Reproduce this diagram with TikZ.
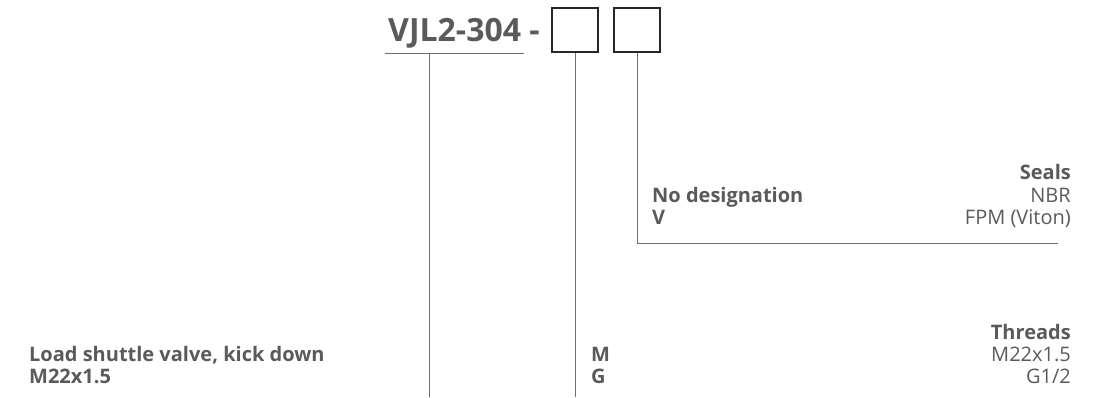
\documentclass[tikz,border=0pt]{standalone}
\usepackage{fontspec}
\setmainfont{Open Sans}
\definecolor{txt}{HTML}{5A5A5A}
\definecolor{ln}{HTML}{6E6E6E}
\begin{document}
\begin{tikzpicture}[x=1pt,y=1pt,
  lbl/.style={inner sep=0pt,text=txt,font=\fontsize{20}{23}\selectfont},
  lblb/.style={lbl,font=\fontsize{20}{23}\selectfont\bfseries},
  codebox/.style={draw=black!85,line width=1.2pt,minimum width=46pt,minimum height=44pt,inner sep=0pt},
  conn/.style={draw=ln,line width=1pt}]
\useasboundingbox (0,0) rectangle (1093,397);
% title
\node[inner sep=0pt,anchor=base west,text=txt,font=\fontsize{32}{38}\selectfont\bfseries] (title) at (388,355) {VJL2-304 -};
\coordinate (ul1) at (385,343);
\coordinate (ul2) at (524,343);
\draw[conn] (ul1) -- (ul2);
\node[codebox] (b1) at (575,367) {};
\node[codebox] (b2) at (637,367) {};
% connectors
\coordinate (t0) at (429,343);
\coordinate (e0) at (429,0);
\draw[conn] (t0) -- (e0);
\coordinate (e1) at (575,0);
\draw[conn] (b1.south) -- (e1);
\coordinate (e2) at (1058,154);
\draw[conn] (b2.south) |- (e2);
% seals
\node[lblb,anchor=base east] (seals) at (1071,217) {Seals};
\node[lblb,anchor=base west] (nod) at (652,195) {No designation};
\node[lbl,anchor=base east] (nbr) at (1071,195) {NBR};
\node[lblb,anchor=base west] (v) at (652,173) {V};
\node[lbl,anchor=base east] (fpm) at (1071,173) {FPM (Viton)};
% threads
\node[lblb,anchor=base east] (threads) at (1071,58) {Threads};
\node[lblb,anchor=base west] (lsv) at (29,36) {Load shuttle valve, kick down};
\node[lblb,anchor=base west] (m22) at (29,14) {M22x1.5};
\node[lblb,anchor=base west] (m) at (591,36) {M};
\node[lblb,anchor=base west] (g) at (591,14) {G};
\node[lbl,anchor=base east] (tm) at (1071,36) {M22x1.5};
\node[lbl,anchor=base east] (tg) at (1071,14) {G1/2};
\end{tikzpicture}
\end{document}
